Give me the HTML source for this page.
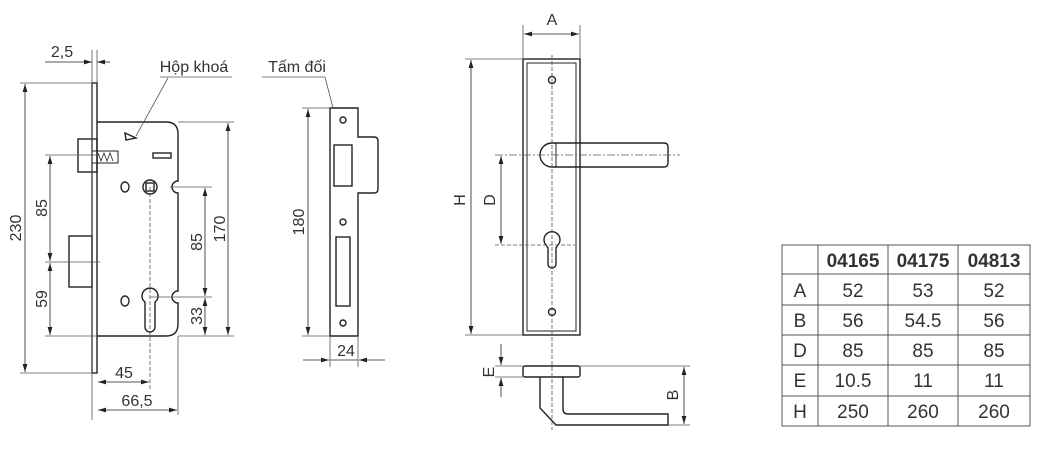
<!DOCTYPE html>
<html><head><meta charset="utf-8"><style>
html,body{margin:0;padding:0;background:#fff;}
svg{display:block;}
text{font-family:"Liberation Sans","Noto Sans CJK SC",sans-serif;fill:#333;}
</style></head><body>
<svg width="1046" height="455" viewBox="0 0 1046 455" xmlns="http://www.w3.org/2000/svg">
<defs>
<marker id="a" viewBox="0 0 10 6" refX="10" refY="3" markerWidth="10" markerHeight="6" orient="auto-start-reverse"><path d="M0,0 L10,3 L0,6z" fill="#222"/></marker>
</defs>
<g stroke="#222" fill="none" stroke-width="1.4">
<rect x="92" y="83" width="5" height="290"/>
<path d="M97,122 H166 Q178,122 178,134 V181 A5,5 0 0 0 178,193 V291 A5,5 0 0 0 178,303 V324 Q178,336 166,336 H97"/>
<rect x="78" y="139" width="19" height="33"/>
<path d="M92,151 H118 V163 H92" stroke-width="1"/>
<path d="M98,153 l3,8 l3,-8 l3,8 l3,-8 l3,8" stroke-width="0.8"/>
<rect x="69" y="236" width="23" height="51"/>
<rect x="153" y="153" width="18" height="5"/>
<circle cx="150" cy="187" r="7"/><rect x="146" y="183" width="8" height="8"/>
<ellipse cx="125" cy="187" rx="4" ry="5"/><ellipse cx="125" cy="301" rx="4" ry="5"/>
<path d="M143,300 A8,8 0 1 1 157,300 L155,302 V327 A5,5 0 0 1 145,327 V302 Z"/>
<path d="M125,133 L136,138 L126,140 Z"/>
<path d="M330,108 H358 V137 H374 Q378,137 378,141 V189 Q378,193 374,193 H358 V336 H330 Z"/>
<rect x="334" y="145" width="18" height="41"/>
<rect x="336" y="237" width="14" height="69"/>
<circle cx="343" cy="120" r="3"/><circle cx="343" cy="222" r="3"/><circle cx="343" cy="323" r="3"/>
<rect x="523" y="59" width="57" height="276"/>
<rect x="527" y="63" width="49" height="268" stroke-width="1"/>
<circle cx="552" cy="80" r="3.5"/><circle cx="552" cy="312" r="3.5"/>
<path d="M552,143 H664 Q668,143 668,147 V163 Q668,167 664,167 H552 A12,12 0 0 1 552,143 Z"/>
<line x1="556" y1="143" x2="556" y2="167" stroke-width="1"/>
<path d="M546,245 A8,8 0 1 1 558,245 L556,248 V264 A4,4 0 0 1 548,264 V248 Z"/>
<rect x="523" y="366" width="57" height="11" rx="2"/>
<path d="M540,377 V408 L556,425 H668 V414 H568 Q563,414 563,409 V377"/>
</g>
<g stroke="#555" stroke-width="0.8" fill="none">
<line x1="20" y1="83" x2="92" y2="83"/><line x1="20" y1="373" x2="92" y2="373"/>
<line x1="45" y1="155" x2="100" y2="155"/><line x1="45" y1="262" x2="100" y2="262"/><line x1="45" y1="336" x2="97" y2="336"/>
<line x1="170" y1="187" x2="212" y2="187"/><line x1="150" y1="297" x2="212" y2="297"/><line x1="178" y1="336" x2="234" y2="336"/><line x1="178" y1="122" x2="234" y2="122"/>
<line x1="92" y1="50" x2="92" y2="420"/><line x1="97" y1="50" x2="97" y2="83"/>
<line x1="150" y1="187" x2="150" y2="390" stroke-dasharray="4,2"/><line x1="178" y1="336" x2="178" y2="415"/>
<line x1="302" y1="108" x2="330" y2="108"/><line x1="302" y1="336" x2="330" y2="336"/>
<line x1="330" y1="336" x2="330" y2="367"/><line x1="358" y1="336" x2="358" y2="367"/>
<line x1="523" y1="25" x2="523" y2="59"/><line x1="580" y1="25" x2="580" y2="59"/>
<line x1="465" y1="59" x2="523" y2="59"/><line x1="465" y1="335" x2="523" y2="335"/>
<line x1="495" y1="155" x2="680" y2="155" stroke-dasharray="8,2,2,2"/><line x1="495" y1="245" x2="575" y2="245" stroke-dasharray="4,2"/>
<line x1="552" y1="55" x2="552" y2="430" stroke-dasharray="4,2"/>
<line x1="495" y1="366" x2="523" y2="366"/><line x1="495" y1="377" x2="523" y2="377"/>
<line x1="580" y1="366" x2="690" y2="366"/><line x1="668" y1="425" x2="690" y2="425"/>
<line x1="168" y1="78" x2="136" y2="136"/><line x1="160" y1="77" x2="232" y2="77"/>
<line x1="262" y1="77" x2="325" y2="77"/><line x1="325" y1="77" x2="333" y2="108"/>
</g>
<g stroke="#222" stroke-width="0.8" fill="none">
<line x1="25" y1="84" x2="25" y2="372" marker-start="url(#a)" marker-end="url(#a)"/>
<line x1="50" y1="156" x2="50" y2="261" marker-start="url(#a)" marker-end="url(#a)"/>
<line x1="50" y1="263" x2="50" y2="335" marker-start="url(#a)" marker-end="url(#a)"/>
<line x1="205" y1="188" x2="205" y2="296" marker-start="url(#a)" marker-end="url(#a)"/>
<line x1="205" y1="298" x2="205" y2="335" marker-start="url(#a)" marker-end="url(#a)"/>
<line x1="228" y1="123" x2="228" y2="335" marker-start="url(#a)" marker-end="url(#a)"/>
<line x1="98" y1="382" x2="149" y2="382" marker-start="url(#a)" marker-end="url(#a)"/>
<line x1="98" y1="410" x2="177" y2="410" marker-start="url(#a)" marker-end="url(#a)"/>
<line x1="80" y1="62" x2="92" y2="62" marker-end="url(#a)"/><line x1="110" y1="62" x2="97" y2="62" marker-end="url(#a)"/>
<line x1="45" y1="62" x2="80" y2="62"/>
<line x1="308" y1="109" x2="308" y2="335" marker-start="url(#a)" marker-end="url(#a)"/>
<line x1="303" y1="360" x2="329" y2="360" marker-end="url(#a)"/><line x1="385" y1="360" x2="359" y2="360" marker-end="url(#a)"/>
<line x1="330" y1="360" x2="358" y2="360"/>
<line x1="524" y1="34" x2="579" y2="34" marker-start="url(#a)" marker-end="url(#a)"/>
<line x1="471" y1="60" x2="471" y2="334" marker-start="url(#a)" marker-end="url(#a)"/>
<line x1="501" y1="156" x2="501" y2="244" marker-start="url(#a)" marker-end="url(#a)"/>
<line x1="501" y1="344" x2="501" y2="365" marker-end="url(#a)"/><line x1="501" y1="397" x2="501" y2="378" marker-end="url(#a)"/>
<line x1="684" y1="367" x2="684" y2="424" marker-start="url(#a)" marker-end="url(#a)"/>
</g>
<g font-size="16" text-anchor="middle">
<text x="62" y="57">2,5</text>
<text x="194" y="72">Hộp khoá</text>
<text x="297" y="72">Tấm đối</text>
<text x="124" y="378">45</text>
<text x="137" y="406">66,5</text>
<text x="346" y="356">24</text>
<text x="552" y="25">A</text>
<text transform="translate(21,228) rotate(-90)">230</text>
<text transform="translate(47,208) rotate(-90)">85</text>
<text transform="translate(47,299) rotate(-90)">59</text>
<text transform="translate(202,242) rotate(-90)">85</text>
<text transform="translate(202,316) rotate(-90)">33</text>
<text transform="translate(225,229) rotate(-90)">170</text>
<text transform="translate(304,222) rotate(-90)">180</text>
<text transform="translate(465,200) rotate(-90)">H</text>
<text transform="translate(495,200) rotate(-90)">D</text>
<text transform="translate(494,372) rotate(-90)">E</text>
<text transform="translate(678,395) rotate(-90)">B</text>
</g>
<g stroke="#555" stroke-width="1" fill="none">
<rect x="782" y="245" width="248" height="181"/>
<line x1="818" y1="245" x2="818" y2="426"/><line x1="888" y1="245" x2="888" y2="426"/><line x1="958" y1="245" x2="958" y2="426"/>
<line x1="782" y1="274" x2="1030" y2="274"/><line x1="782" y1="305" x2="1030" y2="305"/><line x1="782" y1="335" x2="1030" y2="335"/><line x1="782" y1="365" x2="1030" y2="365"/><line x1="782" y1="396" x2="1030" y2="396"/>
</g>
<g font-size="19" text-anchor="middle">
<text x="853" y="267" font-weight="bold" fill="#222">04165</text>
<text x="923" y="267" font-weight="bold" fill="#222">04175</text>
<text x="994" y="267" font-weight="bold" fill="#222">04813</text>
<text x="800" y="297">A</text><text x="853" y="297">52</text><text x="923" y="297">53</text><text x="994" y="297">52</text>
<text x="800" y="327">B</text><text x="853" y="327">56</text><text x="923" y="327">54.5</text><text x="994" y="327">56</text>
<text x="800" y="357">D</text><text x="853" y="357">85</text><text x="923" y="357">85</text><text x="994" y="357">85</text>
<text x="800" y="387">E</text><text x="853" y="387">10.5</text><text x="923" y="387">11</text><text x="994" y="387">11</text>
<text x="800" y="418">H</text><text x="853" y="418">250</text><text x="923" y="418">260</text><text x="994" y="418">260</text>
</g>
</svg>
</body></html>
